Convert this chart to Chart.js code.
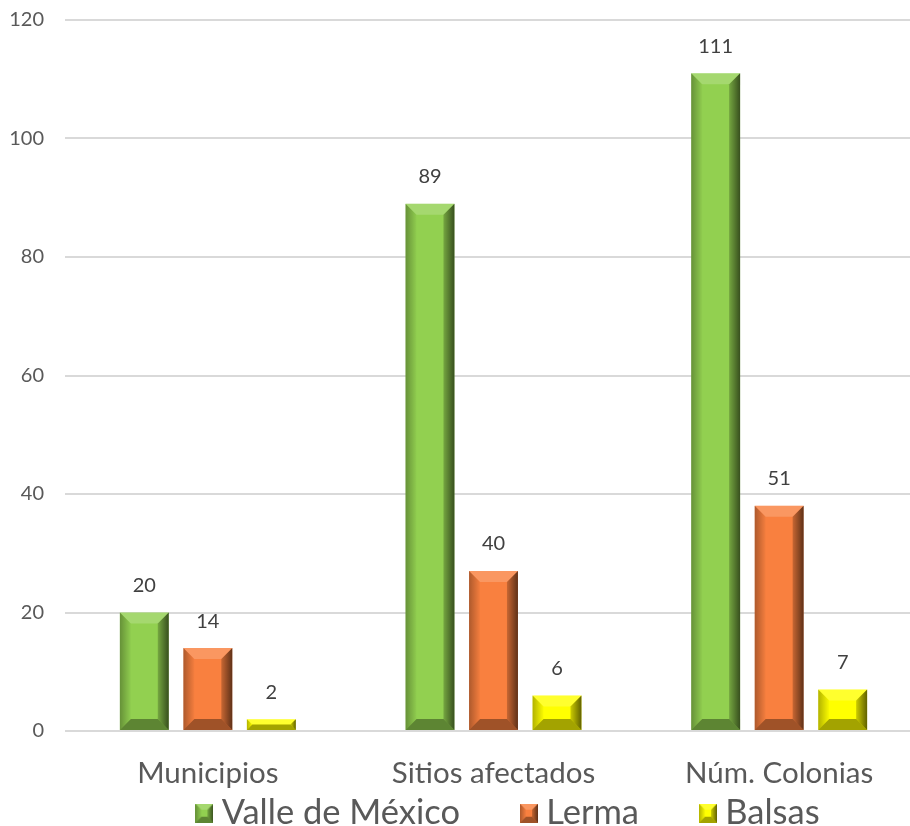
<!DOCTYPE html>
<html>
<head>
<meta charset="utf-8">
<script src="https://cdn.jsdelivr.net/npm/chart.js@4"></script>
<style>
  html, body { margin:0; padding:0; background:#fff; overflow:hidden; }
  #wrap { width:924px; height:826px; }
</style>
</head>
<body>
<div id="wrap"><canvas id="chart"></canvas></div>
<script>
const categories = ['Municipios', 'Sitios afectados', 'Núm. Colonias'];
const seriesNames = ['Valle de México', 'Lerma', 'Balsas'];
const seriesColors = ['#92D050', '#F9803F', '#FFFF00'];

// bar heights as drawn
const valleBars = [20, 89, 111];
const lermaBars = [14, 27, 38];
const balsasBars = [2, 6, 7];

// the numbers printed above the bars
const valleLabels = [20, 89, 111];
const lermaLabels = [14, 40, 51];
const balsasLabels = [2, 6, 7];

const yTicks = [0, 20, 40, 60, 80, 100, 120];

const FONT = 'Lato, "Open Sans", sans-serif';

function bevel(ctx, l, t, r, bot, b){
    const poly = (pts, fill) => {
        ctx.beginPath();
        ctx.moveTo(pts[0][0], pts[0][1]);
        for(let i=1;i<pts.length;i++) ctx.lineTo(pts[i][0], pts[i][1]);
        ctx.closePath();
        ctx.fillStyle = fill;
        ctx.fill();
    };
    // top
    poly([[l,t],[r,t],[r-b,t+b],[l+b,t+b]], 'rgba(255,255,255,0.18)');
    // left
    let g = ctx.createLinearGradient(l,0,l+b,0);
    g.addColorStop(0,'rgba(0,0,0,0.3)');
    g.addColorStop(1,'rgba(0,0,0,0.02)');
    poly([[l,t],[l+b,t+b],[l+b,bot-b],[l,bot]], g);
    // right
    g = ctx.createLinearGradient(r-b,0,r,0);
    g.addColorStop(0,'rgba(0,0,0,0.2)');
    g.addColorStop(1,'rgba(0,0,0,0.62)');
    poly([[r,t],[r-b,t+b],[r-b,bot-b],[r,bot]], g);
    // bottom
    poly([[l,bot],[l+b,bot-b],[r-b,bot-b],[r,bot]], 'rgba(0,0,0,0.36)');
}

function legendBox(color){
    const c = document.createElement('canvas');
    c.width = 18; c.height = 19;
    const x = c.getContext('2d');
    x.fillStyle = color;
    x.fillRect(0,0,18,19);
    bevel(x, 0, 0, 18, 19, 6);
    return c;
}

const bevelPlugin = {
    id: 'bevel',
    afterDatasetsDraw(chart){
        const ctx = chart.ctx;
        chart.data.datasets.forEach((ds, di) => {
            chart.getDatasetMeta(di).data.forEach(bar => {
                const p = bar.getProps(['x','y','base','width'], true);
                const l = p.x - p.width/2, r = p.x + p.width/2;
                const t = Math.min(p.y, p.base), bot = Math.max(p.y, p.base);
                const b = Math.min(11, (bot-t)/2, p.width/2);
                ctx.save();
                bevel(ctx, l, t, r, bot, b);
                ctx.restore();
            });
        });
    }
};

const labelPlugin = {
    id: 'barLabels',
    afterDatasetsDraw(chart){
        const ctx = chart.ctx;
        ctx.save();
        ctx.font = '20px ' + FONT;
        ctx.fillStyle = '#404040';
        ctx.textAlign = 'center';
        ctx.textBaseline = 'middle';
        chart.data.datasets.forEach((ds, di) => {
            chart.getDatasetMeta(di).data.forEach((bar, i) => {
                ctx.fillText(String(ds.shownLabels[i]), bar.x, bar.y - 27);
            });
        });
        ctx.restore();
    }
};

// place the legend row where it sits in the picture
const legendShift = {
    id: 'legendShift',
    afterLayout(chart){
        const lg = chart.legend;
        if(!lg) return;
        const h = lg.bottom - lg.top;
        lg.top = 813 - 69 - 17;
        lg.bottom = lg.top + Math.max(h, 100);
        lg.left += 51; lg.right += 51;
    }
};

const barSets = [valleBars, lermaBars, balsasBars];
const labelSets = [valleLabels, lermaLabels, balsasLabels];

new Chart(document.getElementById('chart'), {
    type: 'bar',
    data: {
        labels: categories,
        datasets: seriesNames.map((name, i) => ({
            label: name,
            data: barSets[i],
            shownLabels: labelSets[i],
            backgroundColor: seriesColors[i],
            borderWidth: 0,
            pointStyle: legendBox(seriesColors[i]),
            barPercentage: 0.77,
            categoryPercentage: 0.667
        }))
    },
    options: {
        responsive: true,
        maintainAspectRatio: false,
        animation: false,
        layout: { padding: { top: 20, right: 2, left: 0, bottom: 0 } },
        plugins: {
            tooltip: { enabled: false },
            legend: {
                position: 'bottom',
                maxHeight: 1,
                labels: {
                    usePointStyle: true,
                    pointStyleWidth: 0.01,
                    padding: 69,
                    font: { family: FONT, size: 34.5 },
                    color: '#595959'
                }
            }
        },
        scales: {
            x: {
                grid: { display: false },
                border: { display: false },
                ticks: { font: { family: FONT, size: 29.5 }, color: '#595959', padding: 17 },
                afterFit(s){ s.height = 94; }
            },
            y: {
                min: 0, max: 120,
                afterBuildTicks(s){ s.ticks = yTicks.map(v => ({ value: v })); },
                grid: { color: '#D9D9D9', lineWidth: 2, drawTicks: false },
                border: { display: false },
                ticks: { font: { family: FONT, size: 20 }, color: '#595959', padding: 21 },
                afterFit(s){ s.width = 65; s.paddingTop = 0; s.paddingBottom = 0; }
            }
        }
    },
    plugins: [bevelPlugin, labelPlugin, legendShift]
});
</script>
</body>
</html>
